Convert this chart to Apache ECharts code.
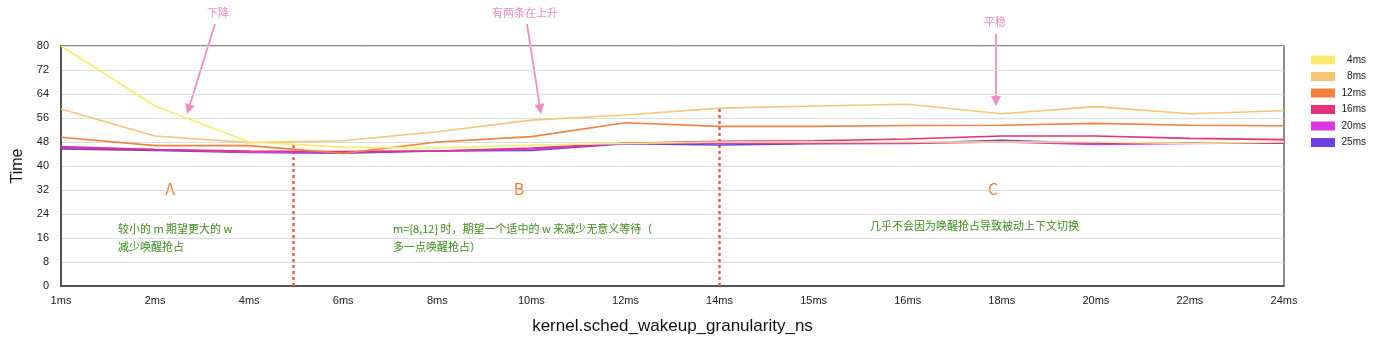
<!DOCTYPE html>
<html><head><meta charset="utf-8">
<script src="https://cdn.jsdelivr.net/npm/echarts@6/dist/echarts.min.js"></script>
<style>html,body{margin:0;padding:0;background:#fff}#c{width:1400px;height:341px}</style>
</head><body><div id="c"></div>
<script>
const categories = ['1ms','2ms','4ms','6ms','8ms','10ms','12ms','14ms','15ms','16ms','18ms','20ms','22ms','24ms'];
const seriesNames = ['4ms','8ms','12ms','16ms','20ms','25ms'];
const s4ms  = [80, 60, 48, 46.3, 46, 47, 47.5, 48, 48, 48, 48, 48, 47.5, 48];
const s8ms  = [59, 50, 47.8, 48.4, 51.4, 55.3, 57, 59.3, 60, 60.6, 57.4, 59.8, 57.4, 58.4];
const s12ms = [49.6, 46.8, 46.8, 44.2, 48, 49.8, 54.4, 53.2, 53.2, 53.5, 53.6, 54.2, 53.6, 53.4];
const s16ms = [46.2, 45.5, 45, 44.8, 45, 46, 47.6, 48.2, 48.4, 49, 50, 50, 49.2, 48.8];
const s20ms = [46.5, 45.5, 44.6, 44.7, 45, 45.6, 47.6, 47.6, 47.6, 47.5, 48, 47.2, 47.5, 47.8];
const s25ms = [45.7, 45.2, 44.5, 44.3, 45, 45.2, 47.4, 47, 47.4, 47.6, 48.6, 47.6, 47.6, 47.6];
const yTicks = {min: 0, max: 80, interval: 8};
const dividers = [[2.47, 47.8], [7, 59.3]];
const colors = ['#f9ec70', '#f5c67a', '#f08140', '#e3317b', '#d93ae0', '#6f40e0'];
const values = [s4ms, s8ms, s12ms, s16ms, s20ms, s25ms];

const chart = echarts.init(document.getElementById('c'));
const series = seriesNames.map((n, i) => ({
  name: n, type: 'line', data: values[i], showSymbol: false, symbol: 'none',
  lineStyle: {width: 1.6, color: colors[i]}, itemStyle: {color: colors[i]}, z: 10 - i
}));
series.push({
  name: 'div', type: 'line', xAxisIndex: 1, data: [], silent: true,
  markLine: {
    symbol: 'none', silent: true, label: {show: false},
    lineStyle: {type: [3, 3], width: 2.5, color: '#e8604c'},
    data: dividers.map(d => [{coord: [d[0], 0]}, {coord: [d[0], d[1]]}])
  }
});
const pink = '#f08cc2', green = '#3d8c1e', orange = '#ee7b30';
const cjk = '"Noto Sans CJK SC", "Liberation Sans", sans-serif';
function arrow(x1, y1, x2, y2) {
  const a = Math.atan2(y2 - y1, x2 - x1), L = 10, W = 5;
  const bx = x2 - L * Math.cos(a), by = y2 - L * Math.sin(a);
  const px = -Math.sin(a) * W, py = Math.cos(a) * W;
  return [
    {type: 'line', shape: {x1, y1, x2: bx, y2: by}, style: {stroke: pink, lineWidth: 1.8}},
    {type: 'polygon', shape: {points: [[x2, y2], [bx + px, by + py], [bx - px, by - py]]}, style: {fill: pink}}
  ];
}
function txt(x, y, s, color, size, align) {
  return {type: 'text', x, y, style: {text: s, fill: color, font: size + 'px ' + cjk, textAlign: align || 'left', textVerticalAlign: 'middle'}};
}
chart.setOption({
  animation: false,
  color: colors,
  grid: {left: 61, right: 116, top: 46, bottom: 55, show: true, borderColor: '#666', borderWidth: 1.5},
  legend: {
    data: seriesNames, orient: 'vertical', left: 1306, top: 50, itemWidth: 24, itemHeight: 9, itemGap: 6.5,
    icon: 'rect', formatter: n => '{a|' + n + '}',
    textStyle: {fontSize: 10, color: '#222', fontFamily: 'Liberation Sans',
      rich: {a: {width: 26, align: 'right', fontSize: 10, fontFamily: 'Liberation Sans', color: '#222'}}}
  },
  xAxis: [{
    type: 'category', data: categories, boundaryGap: false,
    axisLine: {lineStyle: {color: '#555', width: 2}}, axisTick: {show: false},
    axisLabel: {color: '#222', fontSize: 11, fontFamily: 'Liberation Sans', margin: 9},
    splitLine: {show: false},
    name: 'kernel.sched_wakeup_granularity_ns', nameLocation: 'middle', nameGap: 32,
    nameTextStyle: {fontSize: 17, color: '#111', fontFamily: 'Liberation Sans'}
  }, {
    type: 'value', min: 0, max: categories.length - 1, show: false
  }],
  yAxis: {
    type: 'value', min: yTicks.min, max: yTicks.max, interval: yTicks.interval,
    axisLine: {show: true, lineStyle: {color: '#555', width: 2}}, axisTick: {show: false},
    axisLabel: {color: '#222', fontSize: 11, fontFamily: 'Liberation Sans', margin: 12},
    splitLine: {lineStyle: {color: '#dcdcdc', width: 1}},
    name: 'Time', nameLocation: 'middle', nameGap: 31,
    nameTextStyle: {fontSize: 16, color: '#111', fontFamily: 'Liberation Sans'}
  },
  series,
  graphic: [
    ...arrow(215, 24, 187, 114),
    ...arrow(527, 24, 541, 114),
    ...arrow(996, 34, 996, 106),
    txt(218, 13, '下降', pink, 11, 'center'),
    txt(525, 13, '有两条在上升', pink, 11, 'center'),
    txt(995, 22, '平稳', pink, 11, 'center'),
    txt(170, 189, 'A', orange, 16, 'center'),
    txt(519, 189, 'B', orange, 16, 'center'),
    txt(993, 189, 'C', orange, 16, 'center'),
    txt(118, 229, '较小的 m 期望更大的 w', green, 11),
    txt(118, 247, '减少唤醒抢占', green, 11),
    txt(393, 229, 'm={8,12} 时，期望一个适中的 w 来减少无意义等待（', green, 11),
    txt(393, 247, '多一点唤醒抢占）', green, 11),
    txt(870, 226, '几乎不会因为唤醒抢占导致被动上下文切换', green, 11)
  ]
});
</script></body></html>
